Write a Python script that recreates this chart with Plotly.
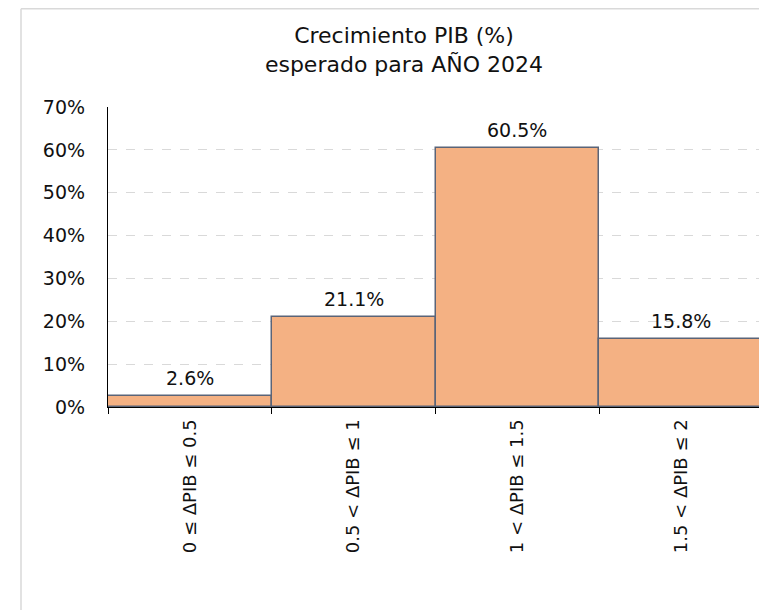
import plotly.graph_objects as go

categories = ["0 ≤ ΔPIB ≤ 0.5", "0.5 < ΔPIB ≤ 1", "1 < ΔPIB ≤ 1.5", "1.5 < ΔPIB ≤ 2"]
values = [2.6, 21.1, 60.5, 15.8]
y_ticks = [0, 10, 20, 30, 40, 50, 60, 70]
y_tick_labels = [f"{t}%" for t in y_ticks]
title_lines = ["Crecimiento PIB (%)", "esperado para AÑO 2024"]

FONT = "DejaVu Sans, Liberation Sans, Arial, sans-serif"
# page has an 8px body margin, so the figure is 8px smaller than the window
W, H = 759, 602
L, R, T, B = 100, 4, 99, 203
PW, PH = W - L - R, H - T - B

fig = go.Figure()
fig.add_trace(go.Bar(
    x=categories, y=values,
    marker=dict(color="#F4B183", line=dict(color="#5A6478", width=1.5)),
    hoverinfo="x+y",
))

for c, v in zip(categories, values):
    fig.add_annotation(x=c, y=v, text=f"{v:.1f}%", showarrow=False,
                       yanchor="bottom", yshift=5,
                       font=dict(family=FONT, size=19, color="#111"))

def px_x(p):
    return (p - L) / PW

def px_y(p):
    return (H - B - p) / PH

fig.add_shape(type="line", xref="paper", yref="paper",
              x0=px_x(13), x1=px_x(13), y0=px_y(0.75), y1=px_y(620),
              line=dict(color="#D9D9D9", width=1.5))
fig.add_shape(type="line", xref="paper", yref="paper",
              x0=px_x(13), x1=px_x(780), y0=px_y(0.75), y1=px_y(0.75),
              line=dict(color="#D9D9D9", width=1.5))

fig.update_layout(
    width=W, height=H,
    margin=dict(l=L, r=R, t=T, b=B, autoexpand=False),
    paper_bgcolor="white", plot_bgcolor="white",
    bargap=0,
    showlegend=False,
    title=dict(text="<br>".join(title_lines), x=396 / W, xanchor="center",
               y=1 - 35 / H, yanchor="middle",
               font=dict(family=FONT, size=22, color="#111")),
    font=dict(family=FONT, size=19, color="#111"),
)
fig.update_xaxes(
    type="category", tickson="boundaries", ticks="outside", ticklen=6,
    tickcolor="#000", tickwidth=1.2,
    showline=True, linecolor="#000", linewidth=1.2,
    tickangle=-90, tickfont=dict(family=FONT, size=18, color="#111"),
    ticklabelstandoff=4,
    showgrid=False, fixedrange=True,
)
fig.update_yaxes(
    range=[0, 70], tickvals=y_ticks, ticktext=y_tick_labels,
    showline=True, linecolor="#000", linewidth=1.2,
    showgrid=True, gridcolor="#D9D9D9", griddash="dash", gridwidth=1,
    zeroline=False, ticks="", ticklabelstandoff=18,
    tickfont=dict(family=FONT, size=19, color="#111"),
)

fig.write_html("out.html")
